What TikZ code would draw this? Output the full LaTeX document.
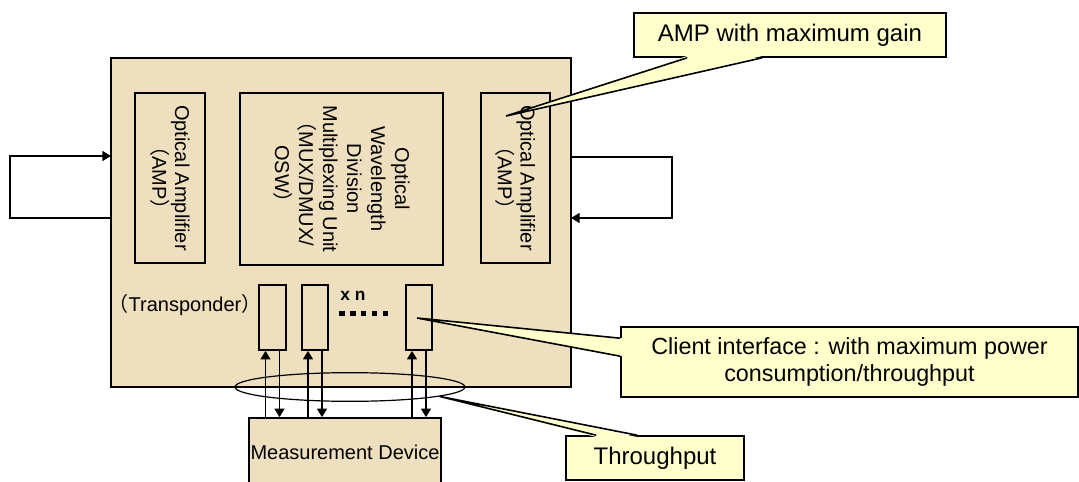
\documentclass[tikz,border=0pt]{standalone}
\usepackage{fontspec}
\setmainfont{Liberation Sans}
\newfontfamily\cjk{Noto Sans CJK SC}
\usetikzlibrary{arrows.meta,fit,shapes.geometric,calc}
\definecolor{boxtan}{RGB}{238,224,190}
\definecolor{noteyellow}{RGB}{255,255,204}

\begin{document}
\begin{tikzpicture}[x=0.75pt, y=-0.75pt,
    unit/.style={draw, line width=1.2pt, inner sep=0pt},
    note/.style={draw, fill=noteyellow, line width=1.2pt, inner sep=0pt},
    sig/.style={draw, line width=1.2pt, -{Triangle[length=6.5pt,width=7.5pt]}}]

    \useasboundingbox (0,0) rectangle (1079,482);
    \clip (0,0) rectangle (1079,482);

    \begin{scope} %node
        \node[unit, fill=boxtan, fit={(111,58) (571,387)}] (main) {};
        \node[unit, fit={(135,93) (205,263)}] (ampL) {};
        \node[unit, fit={(240,93) (443,265)}] (wdm) {};
        \node[unit, fit={(481,93) (550,263)}] (ampR) {};
        \node[unit, fit={(259,285) (286,350)}] (tr1) {};
        \node[unit, fit={(302,285) (328,350)}] (tr2) {};
        \node[unit, fit={(406,285) (432,350)}] (tr3) {};
        \node[unit, fill=boxtan, fit={(249,418) (441,500)}] (meas) {};
        \node[draw, ellipse, line width=0.9pt, inner sep=0pt,
              minimum width=172.5pt, minimum height=21.5pt] (thru) at (350,387) {};
    \end{scope}

    \begin{scope}[every node/.style={rotate=-90, align=center}] %labels
        \node[font=\fontsize{15}{14.25}\selectfont] (ampLtxt) at (ampL)
            {Optical Amplifier\\{\cjk （}AMP{\cjk ）}};
        \node[font=\fontsize{15}{18}\selectfont] (wdmtxt) at (wdm)
            {Optical\\Wavelength\\Division\\Multiplexing Unit\\{\cjk （}MUX/DMUX/\\OSW{\cjk ）}};
        \node[font=\fontsize{15}{14.25}\selectfont] (ampRtxt) at (ampR)
            {Optical Amplifier\\{\cjk （}AMP{\cjk ）}};
    \end{scope}

    \node[font=\fontsize{15}{18}\selectfont] (trtxt) at (185,305) {{\cjk （}Transponder{\cjk ）}};
    \node[font=\fontsize{13}{15}\bfseries] (times) at (353,296) {x n};
    \coordinate (dotsL) at (339,313.5);
    \coordinate (dotsR) at (392,313.5);
    \draw[line width=4.2pt, dash pattern=on 4.2pt off 4pt] (dotsL) -- (dotsR);
    \node[font=\fontsize{15}{18}\selectfont] (meastxt) at (345,452) {Measurement Device};

    % loops
    \coordinate (lin) at (111,156);
    \coordinate (lout) at (111,218);
    \coordinate (lturn) at (10,0);
    \draw[sig] (lout) -- (lout -| lturn) -- (lin -| lturn) -- (lin);
    \coordinate (rout) at (571,157);
    \coordinate (rin) at (571,218);
    \coordinate (rturn) at (672,0);
    \draw[sig] (rout) -- (rout -| rturn) -- (rin -| rturn) -- (rin);

    \begin{scope}[every edge/.style={sig}] %signals
        \foreach \t/\i in {tr1/1, tr2/2, tr3/3} {
            \path (\t.south) ++(-7,0) coordinate (up\i);
            \path (\t.south) ++(7,0) coordinate (dn\i);
            \path (up\i |- meas.north) edge (up\i);
            \path (dn\i) edge (dn\i |- meas.north);
        }
    \end{scope}

    % callouts
    \node[note, fit={(634,13) (946,57)}] (ampnote) {};
    \node[font=\fontsize{18}{20}\selectfont] (ampnotetxt) at (ampnote) {AMP with maximum gain};
    \coordinate (amptip) at (506,116);
    \fill[noteyellow] ($(ampnote.south west)+(54,-1.8)$) -- (amptip) -- ($(ampnote.south west)+(129,-1.8)$) -- cycle;
    \draw[line width=1.2pt] ($(ampnote.south west)+(54,0)$) -- (amptip) -- ($(ampnote.south west)+(129,0)$);

    \node[note, fit={(621,327) (1078,397)}] (clientnote) {};
    \node[font=\fontsize{17.5}{20}\selectfont, align=center] (clientnotetxt) at (clientnote)
        {Client interface : with maximum power\\consumption/throughput};
    \coordinate (clienttip) at (417,318);
    \fill[noteyellow] ($(clientnote.north west)+(1.8,12)$) -- (clienttip) -- ($(clientnote.north west)+(1.8,30)$) -- cycle;
    \draw[line width=1.2pt] ($(clientnote.north west)+(0,12)$) -- (clienttip) -- ($(clientnote.north west)+(0,30)$);

    \node[note, fit={(566,436) (744,480)}] (thrunote) {};
    \node[font=\fontsize{18}{20}\selectfont] (thrunotetxt) at (thrunote) {Throughput};
    \fill[noteyellow] ($(thrunote.north west)+(31,1.8)$) -- (thru.-6) -- ($(thrunote.north west)+(72,1.8)$) -- cycle;
    \draw[line width=1.2pt] ($(thrunote.north west)+(31,0)$) -- (thru.-6) -- ($(thrunote.north west)+(72,0)$);

\end{tikzpicture}
\end{document}
